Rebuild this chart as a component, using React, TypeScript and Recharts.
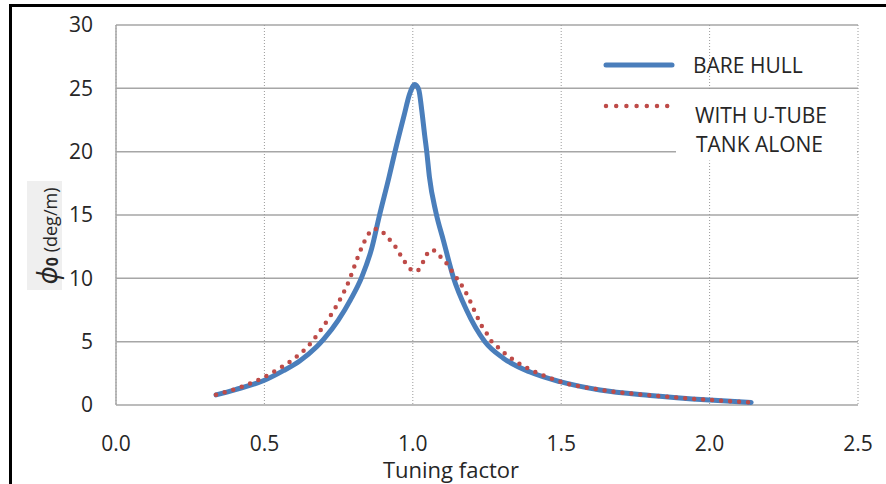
import React from 'react';
import { LineChart, Line, XAxis, YAxis, CartesianGrid, Legend, Label } from 'recharts';

// ---- data ----
const bareHullX = [0.337, 0.4, 0.5, 0.564, 0.62, 0.676, 0.7, 0.749, 0.79, 0.828, 0.862, 0.887, 0.92, 0.94, 0.97, 0.99, 1.007, 1.02, 1.03, 1.04, 1.047, 1.056, 1.078, 1.103, 1.137, 1.181, 1.243, 1.305, 1.395, 1.496, 1.631, 1.8, 2.0, 2.14];
const bareHullY = [0.8, 1.2, 1.95, 2.71, 3.5, 4.6, 5.2, 6.7, 8.3, 10.1, 12.4, 14.9, 18.0, 20, 22.8, 24.6, 25.3, 24.9, 23.3, 21.3, 20, 18.0, 15.2, 13.0, 10.05, 7.5, 5.0, 3.7, 2.6, 1.84, 1.18, 0.75, 0.39, 0.2];

const uTubeX = [0.337, 0.43, 0.49, 0.547, 0.601, 0.648, 0.687, 0.724, 0.757, 0.785, 0.807, 0.831, 0.848, 0.869, 0.895, 0.918, 0.94, 0.957, 0.974, 0.996, 1.01, 1.024, 1.037, 1.05, 1.064, 1.078, 1.1, 1.12, 1.136, 1.157, 1.174, 1.19, 1.204, 1.217, 1.232, 1.249, 1.266, 1.29, 1.316, 1.344, 1.372, 1.4, 1.428, 1.5, 1.631, 1.8, 2.0, 2.14];
const uTubeY = [0.8, 1.5, 2.1, 2.84, 3.68, 4.66, 5.84, 7.1, 8.42, 9.8, 11.2, 12.6, 13.4, 13.9, 13.7, 13.15, 12.55, 11.9, 11.26, 10.65, 10.55, 10.8, 11.4, 12.0, 12.25, 12.1, 11.5, 11.0, 10.4, 9.73, 9.08, 8.37, 7.63, 6.97, 6.26, 5.66, 5.0, 4.5, 3.95, 3.5, 3.08, 2.76, 2.45, 1.82, 1.2, 0.76, 0.4, 0.2];

const xTicks = [0, 0.5, 1.0, 1.5, 2.0, 2.5];
const yTicks = [0, 5, 10, 15, 20, 25, 30];
const seriesNames = ['BARE HULL', 'WITH U-TUBE', 'TANK ALONE'];
const xTitle = 'Tuning factor';

const bareHullData = bareHullX.map((x, i) => ({ x, y: bareHullY[i] }));
const uTubeData = uTubeX.map((x, i) => ({ x, y: uTubeY[i] }));

const FONT = '"Open Sans", "Noto Sans", sans-serif';
const BLUE = '#4A7EBB';
const RED = '#BE4B48';
const GRID = '#A6A6A6';
const TEXT = '#262626';

const renderLegend = () => (
  <svg width={886} height={484} style={{ position: 'absolute', left: 0, top: 0 }}>
    <line x1={606} y1={65} x2={672} y2={65} stroke={BLUE} strokeWidth={5} strokeLinecap="round" />
    <text x={693} y={73} fontSize={21} fill={TEXT} fontFamily={FONT}>{seriesNames[0]}</text>
    <rect x={676} y={89.5} width={181} height={71} fill="#FFFFFF" />
    <line x1={606} y1={106} x2={667.2} y2={106} stroke={RED} strokeWidth={4.5} strokeDasharray="0 10.2" strokeLinecap="round" />
    <text x={695} y={123} fontSize={21} fill={TEXT} fontFamily={FONT}>{seriesNames[1]}</text>
    <text x={696} y={151.5} fontSize={21} fill={TEXT} fontFamily={FONT}>{seriesNames[2]}</text>
  </svg>
);

const renderYLabel = () => (
  <g>
    <rect x={27} y={181} width={35} height={109} fill="#EFEFEF" />
    <text transform="translate(57,236) rotate(-90)" textAnchor="middle" fontFamily={FONT} fill={TEXT}>
      <tspan fontSize={27} fontStyle="italic">ϕ</tspan>
      <tspan fontSize={16} fontWeight="bold" dy={1}>0</tspan>
      <tspan fontSize={18} dy={-1}> (deg/m)</tspan>
    </text>
  </g>
);

export default function App() {
  return (
    <div style={{ position: 'absolute', left: 0, top: 0, width: 886, height: 484, background: '#fff', overflow: 'hidden' }}>
      <LineChart width={886} height={484} margin={{ top: 25, right: 28, bottom: 0, left: 0 }}>
        <CartesianGrid vertical={false} stroke={GRID} strokeWidth={1.5} fill="none" />
        <CartesianGrid horizontal={false} stroke="#9A9A9A" strokeWidth={1} strokeDasharray="1 2" fill="none" />
        <XAxis
          dataKey="x"
          type="number"
          domain={[0, 2.5]}
          ticks={xTicks}
          interval={0}
          tickFormatter={(v: number) => v.toFixed(1)}
          axisLine={false}
          tickLine={false}
          tickSize={0}
          tickMargin={31}
          height={79}
          tick={{ fontSize: 21, fill: TEXT, fontFamily: FONT }}
          allowDataOverflow
        >
          <Label value={xTitle} position="insideTop" offset={57} dx={-36} fontSize={22} fill={TEXT} fontFamily={FONT} />
        </XAxis>
        <YAxis
          type="number"
          domain={[0, 30]}
          ticks={yTicks}
          interval={0}
          width={116}
          axisLine={{ stroke: GRID, strokeWidth: 1.5 }}
          tickLine={false}
          tickSize={0}
          tickMargin={23}
          tick={{ fontSize: 21, fill: TEXT, fontFamily: FONT }}
        >
          <Label content={renderYLabel} />
        </YAxis>
        <Line
          data={bareHullData}
          dataKey="y"
          name={seriesNames[0]}
          type="monotone"
          stroke={BLUE}
          strokeWidth={5}
          strokeLinecap="round"
          strokeLinejoin="round"
          dot={false}
          activeDot={false}
          isAnimationActive={false}
        />
        <Line
          data={uTubeData}
          dataKey="y"
          name="WITH U-TUBE TANK ALONE"
          type="monotone"
          stroke={RED}
          strokeWidth={4.5}
          strokeDasharray="0 9"
          strokeLinecap="round"
          dot={false}
          activeDot={false}
          isAnimationActive={false}
        />
        <Legend
          layout="horizontal"
          verticalAlign="middle"
          align="center"
          content={renderLegend}
          wrapperStyle={{ left: 0, top: 0, width: 886, height: 484, pointerEvents: 'none' }}
        />
      </LineChart>
      <div
        style={{
          position: 'absolute',
          left: 9,
          top: 4,
          width: 900,
          height: 500,
          borderTop: '3px solid #000',
          borderLeft: '3px solid #000',
          pointerEvents: 'none',
        }}
      />
    </div>
  );
}
